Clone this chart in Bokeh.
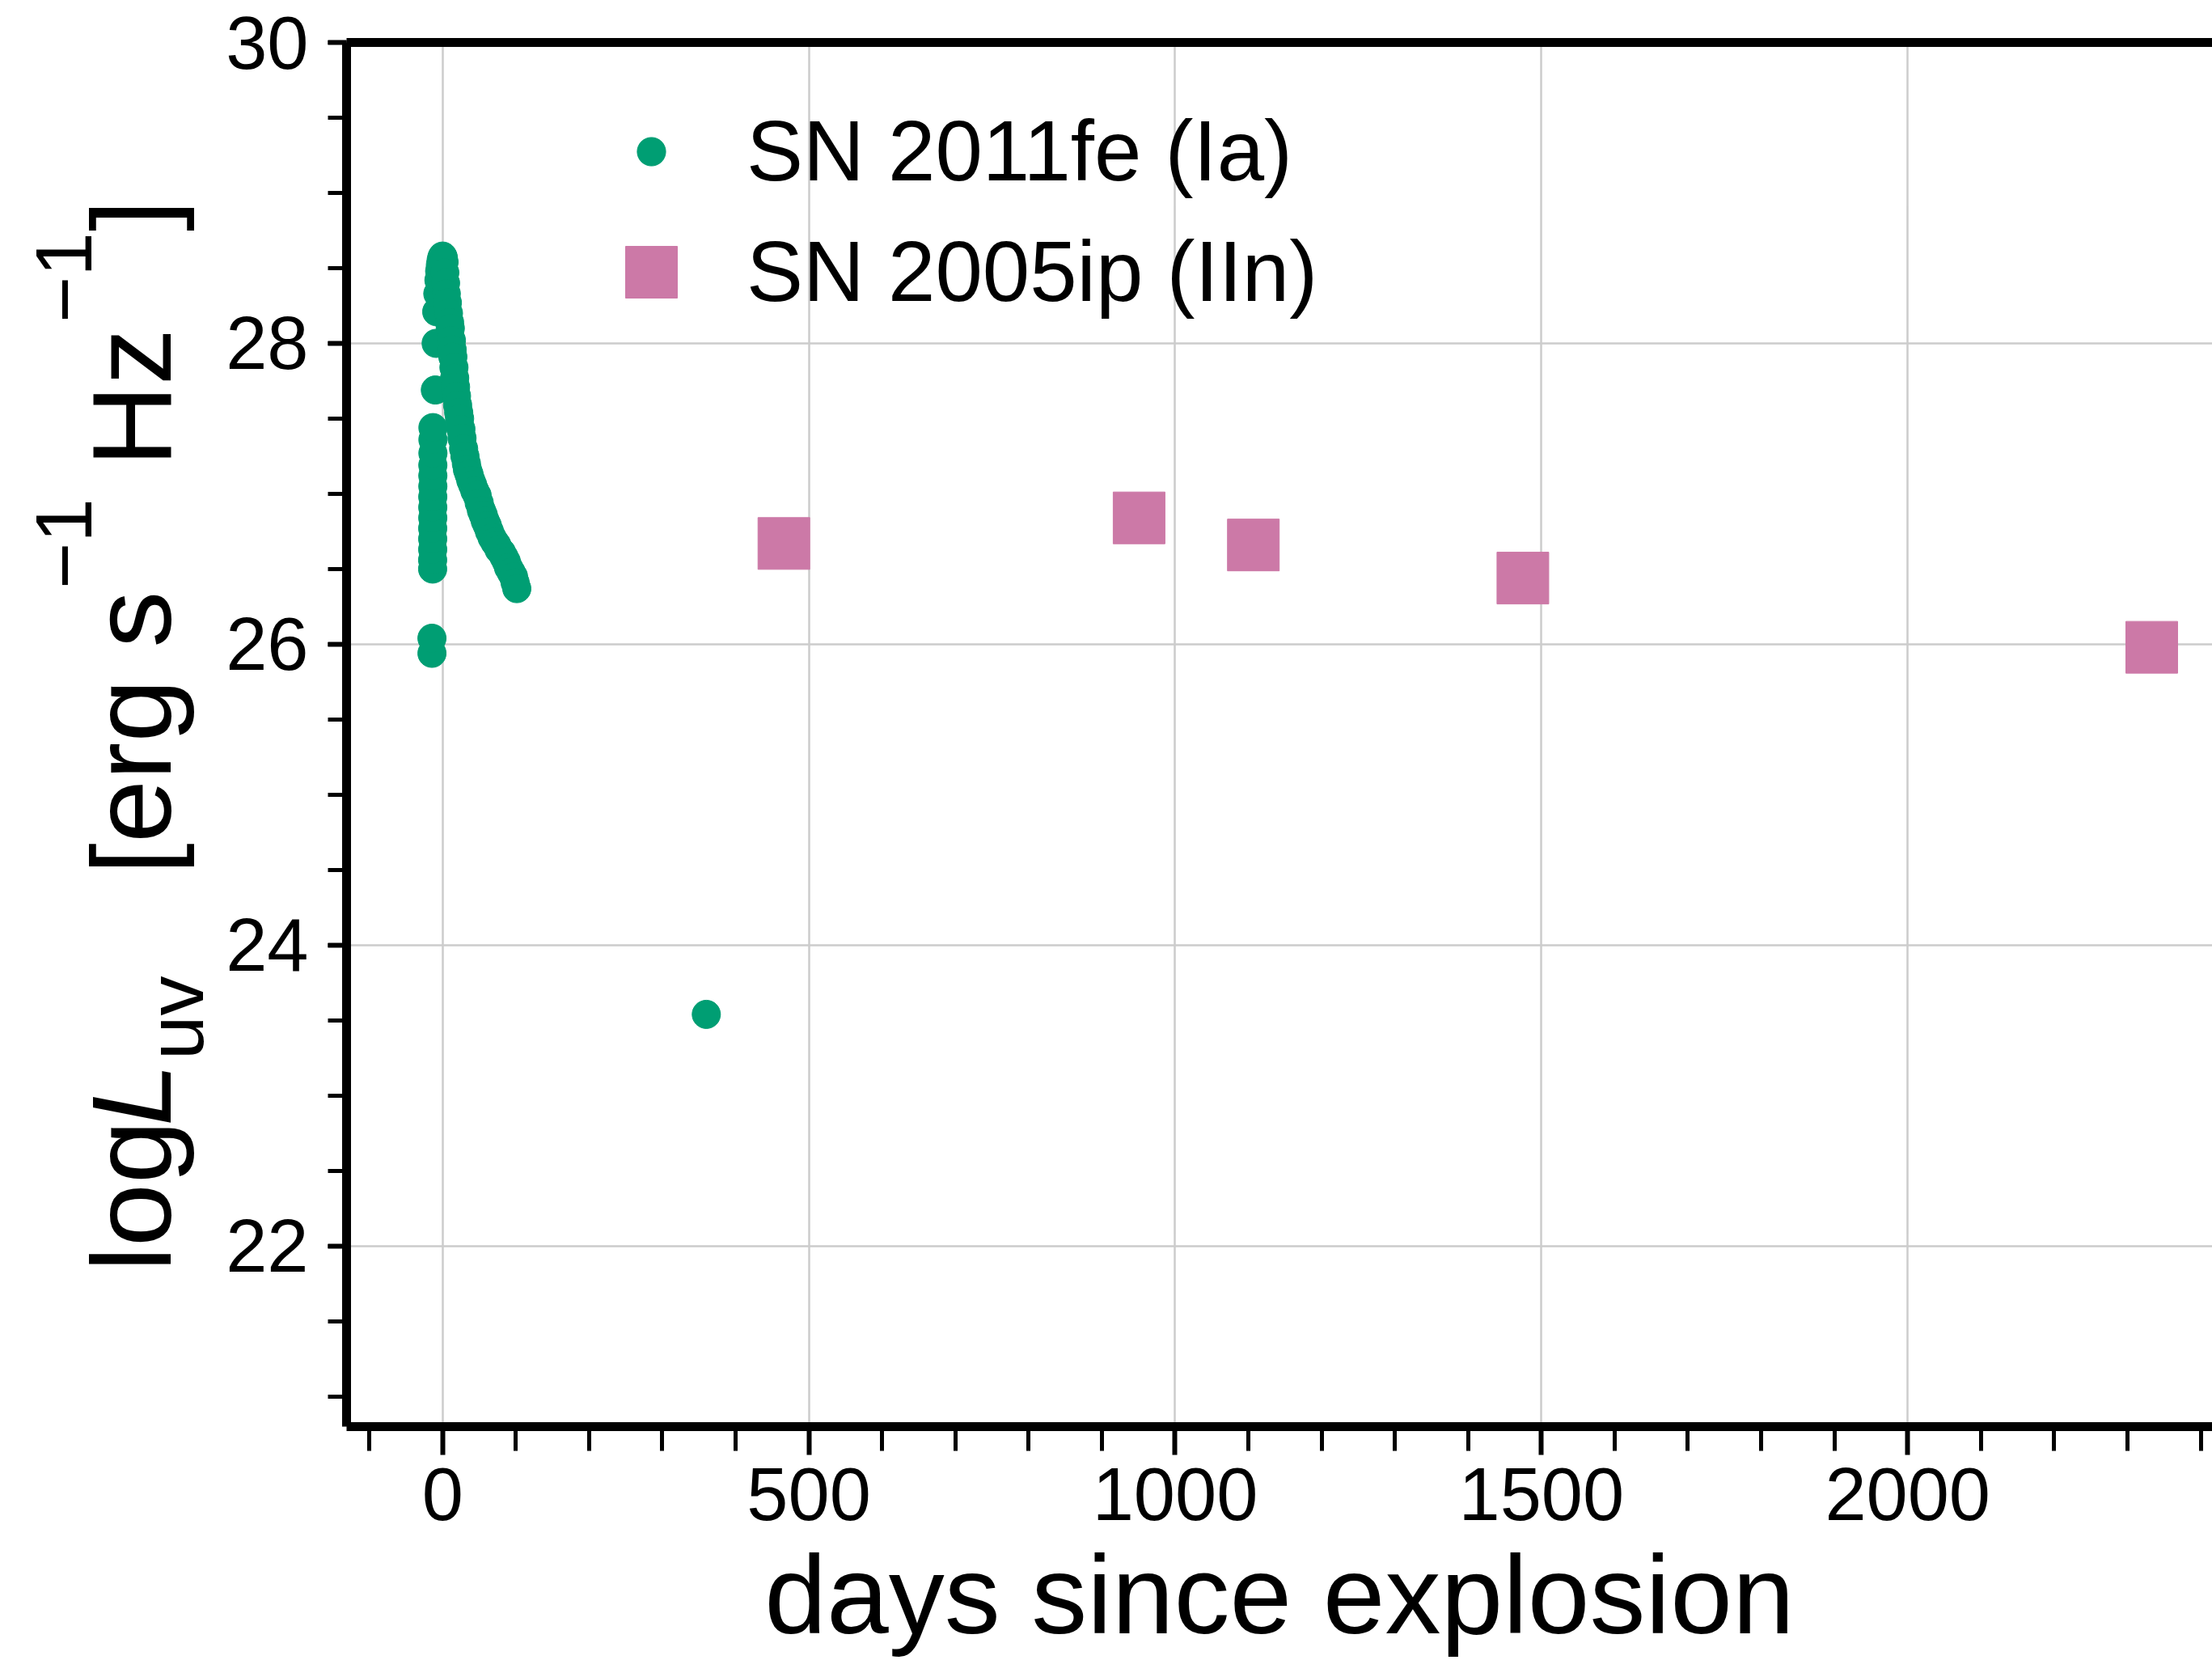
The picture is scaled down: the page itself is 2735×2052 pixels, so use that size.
from bokeh.plotting import figure
from bokeh.layouts import row
from bokeh.models import FixedTicker, LinearAxis, Legend, LegendItem, Range1d, Div
from bokeh.embed import file_html
from bokeh.resources import INLINE

# ---------------- data ----------------
# SN 2011fe (Ia): days since explosion, log L_UV
fe_days = [-14.5, -14.5,
           -13.6, -13.6, -13.5, -13.5, -13.5, -13.4, -13.4, -13.4, -13.3, -13.3, -13.3, -13.2, -13.2, -13.2,
           -9.9, -8.8, -8.0, -6.5, -5.0, -4.0, -3.0, -2.0, -1.0, 0.0,
           1.0, 2.0, 3.0, 4.0, 5.0, 6.5, 8.0, 9.5, 10.5, 12.0, 13.0, 14.0, 15.5, 16.5, 17.7,
           19.0, 20.5, 22.0, 23.2, 25.0, 26.5, 28.7, 30.5, 32.5, 34.0, 36.1, 38.5, 41.0, 44.0,
           47.1, 50.0, 53.0, 55.5, 58.2, 61.0, 64.0, 67.5, 71.1, 74.0, 77.0, 80.5, 83.9, 87.0,
           90.0, 93.5, 96.8, 99.0, 101.3,
           360.0]
fe_logL = [25.94, 26.04,
           26.50, 26.56, 26.63, 26.70, 26.77, 26.84, 26.91, 26.98, 27.05, 27.12, 27.19, 27.27, 27.36, 27.44,
           27.69, 28.00, 28.21, 28.33, 28.42, 28.48, 28.52, 28.55, 28.57, 28.58,
           28.57, 28.54, 28.47, 28.40, 28.33, 28.27, 28.20, 28.14, 28.10, 28.02, 27.96, 27.91, 27.84, 27.77, 27.71,
           27.65, 27.59, 27.54, 27.50, 27.43, 27.37, 27.30, 27.25, 27.20, 27.16, 27.13, 27.09, 27.06, 27.02,
           26.99, 26.94, 26.89, 26.86, 26.82, 26.79, 26.75, 26.71, 26.68, 26.66, 26.63, 26.61, 26.58, 26.55,
           26.51, 26.48, 26.45, 26.41, 26.37,
           23.54]

# SN 2005ip (IIn)
ip_days = [465.9, 950.8, 1106.8, 1474.7, 2333.2]
ip_logL = [26.67, 26.84, 26.66, 26.44, 25.98]

series_labels = ["SN 2011fe (Ia)", "SN 2005ip (IIn)"]
x_major = [0, 500, 1000, 1500, 2000]
x_minor = [-100, 0, 100, 200, 300, 400, 500, 600, 700, 800, 900, 1000, 1100, 1200,
           1300, 1400, 1500, 1600, 1700, 1800, 1900, 2000, 2100, 2200, 2300, 2400]
y_major = [22, 24, 26, 28, 30]
y_minor = [21.0, 21.5, 22.0, 22.5, 23.0, 23.5, 24.0, 24.5, 25.0, 25.5, 26.0, 26.5,
           27.0, 27.5, 28.0, 28.5, 29.0, 29.5, 30.0]
x_label = "days since explosion"

GREEN = "#009E73"
PINK = "#CC79A7"
FONT = "Liberation Sans"

W, H = 2735, 2052
WL = 274            # width of the strip carrying the rotated y-axis title
FL, FT, FB = 428, 52, 1763

# ---------------- main figure ----------------
p = figure(width=W - WL, height=H,
           x_range=Range1d(-131.1, 2416.0), y_range=Range1d(20.8, 30.0),
           output_backend="svg", toolbar_location=None,
           min_border_left=FL - WL, min_border_right=0, min_border_top=FT, min_border_bottom=H - FB)
p.outline_line_color = None
p.background_fill_color = "white"
p.border_fill_color = "white"

xa = p.xaxis[0]
ya = p.yaxis[0]
xa.ticker = FixedTicker(ticks=x_major, minor_ticks=x_minor)
ya.ticker = FixedTicker(ticks=y_major, minor_ticks=y_minor)

for ax in (xa, ya):
    ax.axis_line_width = 11
    ax.axis_line_color = "black"
    ax.major_tick_line_color = "black"
    ax.minor_tick_line_color = "black"
    ax.major_tick_in = 0
    ax.minor_tick_in = 0
    ax.major_label_text_font = FONT
    ax.major_label_text_font_size = "92px"
    ax.major_label_text_color = "black"

xa.major_tick_out = 35
xa.minor_tick_out = 30
xa.major_tick_line_width = 6
xa.minor_tick_line_width = 5
xa.major_label_standoff = 16
xa.axis_label = x_label
xa.axis_label_text_font = FONT
xa.axis_label_text_font_size = "138px"
xa.axis_label_text_font_style = "normal"
xa.axis_label_text_color = "black"
xa.axis_label_standoff = 12

ya.major_tick_out = 23
ya.minor_tick_out = 23
ya.major_tick_line_width = 6
ya.minor_tick_line_width = 5
ya.major_label_standoff = 24
ya.axis_label = None

# top spine
top = LinearAxis(ticker=FixedTicker(ticks=[]), axis_line_width=11, axis_line_color="black",
                 major_tick_line_color=None, minor_tick_line_color=None,
                 major_label_text_font_size="0px")
p.add_layout(top, "above")

p.xgrid.grid_line_color = "#cccccc"
p.ygrid.grid_line_color = "#cccccc"
p.xgrid.grid_line_width = 2.5
p.ygrid.grid_line_width = 2.5

r_ip = p.scatter(ip_days, ip_logL, marker="square", size=64, fill_color=PINK, line_color=PINK)
r_fe = p.scatter(fe_days, fe_logL, marker="circle", size=35, fill_color=GREEN, line_color=GREEN)

common = dict(padding=0, margin=0, spacing=0, border_line_color=None, background_fill_alpha=0,
              label_text_font=FONT, label_text_font_size="105px", label_text_color="black")
leg1 = Legend(items=[LegendItem(label=series_labels[0], renderers=[r_fe])],
              location=(333, 1511), glyph_width=88, glyph_height=130, label_standoff=74, **common)
leg2 = Legend(items=[LegendItem(label=series_labels[1], renderers=[r_ip])],
              location=(297, 1347), glyph_width=160, glyph_height=160, label_standoff=38, **common)
p.add_layout(leg1)
p.add_layout(leg2)

# ---------------- rotated y-axis title (real SVG text) ----------------
def piece(text, cx, cy, size, style="normal"):
    return ('<text transform="translate(%d,%d) rotate(-90)" font-size="%d" '
            'font-style="%s">%s</text>' % (cx, cy, size, style, text))

y_pieces = "".join([
    piece("log", 211, 1572, 140),
    piece("L", 211, 1392, 140, "italic"),
    piece("uv", 251, 1310, 98),
    piece("[erg s", 211, 1081, 140),
    piece("&#8722;1", 113, 728, 98),
    piece("Hz", 211, 577, 140),
    piece("&#8722;1", 113, 399, 98),
    piece("]", 211, 286, 140),
])
svg = ('<svg xmlns="http://www.w3.org/2000/svg" width="%d" height="%d" style="display:block">'
       '<g font-family="%s" fill="black">%s</g></svg>' % (WL, H, FONT, y_pieces))
ydiv = Div(text=svg, width=WL, height=H, margin=0)

layout = row(ydiv, p, spacing=0)
open("out.html", "w").write(file_html(layout, INLINE))
